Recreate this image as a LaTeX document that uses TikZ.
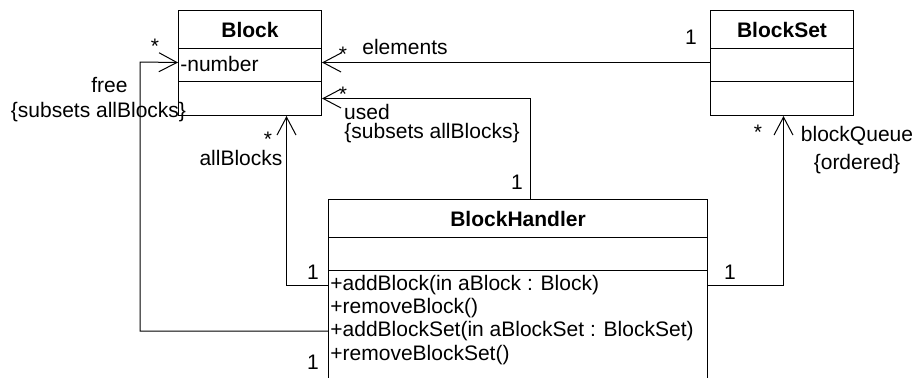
\documentclass[tikz,border=0pt]{standalone}
\usepackage{fontspec}
\setmainfont{Liberation Sans}
\usetikzlibrary{arrows.meta}

\begin{document}
\begin{tikzpicture}[
        x=0.5pt, y=-0.5pt,
        font=\fontsize{10.5pt}{12.6pt}\selectfont,
        cls/.style={draw, line width=0.5pt, inner sep=0pt, anchor=north west},
        member/.style={anchor=west, inner sep=1pt},
        assoc/.style={line width=0.5pt, -{Straight Barb[length=9pt, width=9.5pt, line width=0.5pt]}},
        mult/.style={inner sep=0pt}
    ]

        \path[use as bounding box, clip] (0,0) rectangle (913,377);

        % Block
        \node[cls, minimum width=71.5pt, minimum height=19pt, font=\fontsize{10.5pt}{12.6pt}\selectfont\bfseries] (bhead) at (178,10) {Block};
        \node[cls, minimum width=71.5pt, minimum height=16.5pt] (battr) at (178,48) {};
        \node[cls, minimum width=71.5pt, minimum height=17pt] (bops) at (178,81) {};
        \node[member] (bnumber) at (178,64) {-number};

        % BlockSet
        \node[cls, minimum width=71.5pt, minimum height=19pt, font=\fontsize{10.5pt}{12.6pt}\selectfont\bfseries] (bshead) at (710,10) {BlockSet};
        \node[cls, minimum width=71.5pt, minimum height=16.5pt] (bsattr) at (710,48) {};
        \node[cls, minimum width=71.5pt, minimum height=17pt] (bsops) at (710,81) {};

        % BlockHandler
        \node[cls, minimum width=189.5pt, minimum height=19pt, font=\fontsize{10.5pt}{12.6pt}\selectfont\bfseries] (bhhead) at (328,199) {BlockHandler};
        \node[cls, minimum width=189.5pt, minimum height=16.5pt] (bhattr) at (328,237) {};
        \node[cls, minimum width=189.5pt, minimum height=70pt] (bhops) at (328,270) {};
        \node[member] (op1) at (328,285) {+addBlock(in aBlock : Block)};
        \node[member] (op2) at (328,308) {+removeBlock()};
        \node[member] (op3) at (328,331) {+addBlockSet(in aBlockSet : BlockSet)};
        \node[member] (op4) at (328,355) {+removeBlockSet()};

        \coordinate (freebend) at (140,62);

        \draw[assoc] ([yshift=1.25pt]bsattr.west) -- ([yshift=1.25pt]battr.east);
        \draw[assoc] ([xshift=6.25pt]bhhead.north) |- (bops.east);
        \draw[assoc] (op1.west) -| ([xshift=18.25pt]bops.south);
        \draw[assoc] (op3.west) -| (freebend) -- ([yshift=1.25pt]battr.west);
        \draw[assoc] (op1 -| bhops.east) -| ([xshift=0.75pt]bsops.south);

        % elements
        \node[mult] (elemstar) at (343,54.5) {*};
        \node[mult] (elemrole) at (405,47) {elements};
        \node[mult] (elemone) at (691,37) {1};

        % used
        \node[mult] (usedstar) at (343,94.5) {*};
        \node[mult] (usedrole) at (367,112) {used};
        \node[mult] (usedsub) at (432,133) {\{subsets allBlocks\}};
        \node[mult] (usedone) at (517,182) {1};

        % allBlocks
        \node[mult] (allstar) at (268,139.5) {*};
        \node[mult] (allrole) at (241,158) {allBlocks};
        \node[mult] (allone) at (313,272) {1};

        % free
        \node[mult] (freestar) at (155,46.5) {*};
        \node[mult] (freerole) at (109.5,85) {free};
        \node[mult] (freesub) at (98.5,112) {\{subsets allBlocks\}};
        \node[mult] (freeone) at (313,362) {1};

        % blockQueue
        \node[mult] (queuestar) at (758,132.5) {*};
        \node[mult] (queuerole) at (857,136) {blockQueue};
        \node[mult] (queueord) at (857,164) {\{ordered\}};
        \node[mult] (queueone) at (730,272) {1};
    \end{tikzpicture}
\end{document}
